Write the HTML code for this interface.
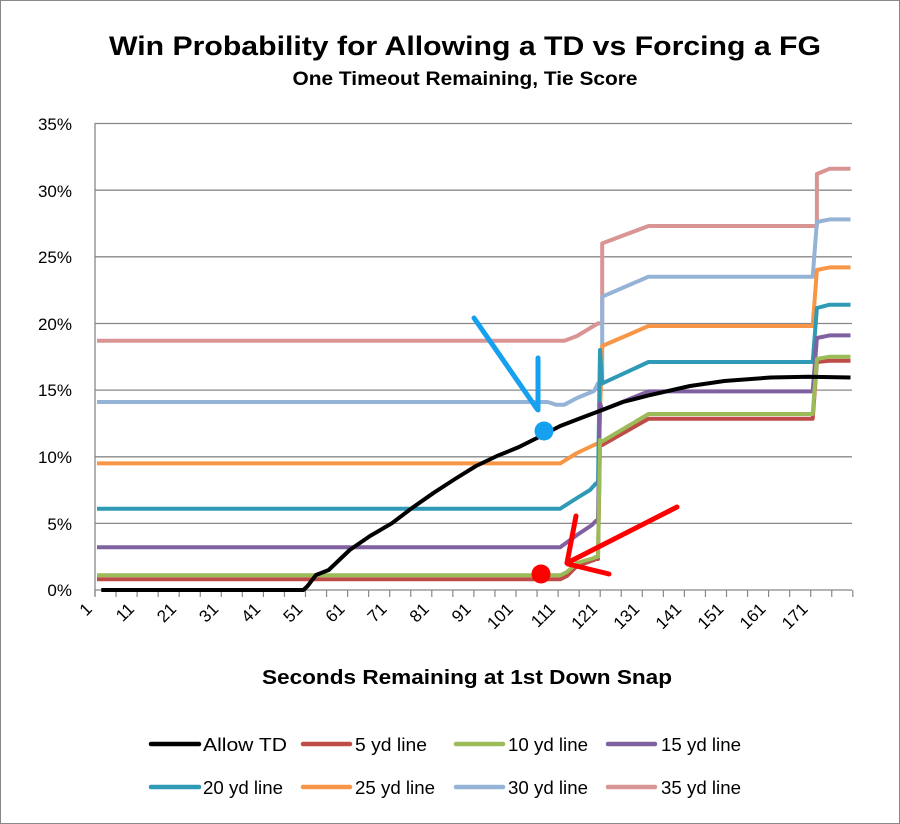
<!DOCTYPE html>
<html><head><meta charset="utf-8"><style>body{margin:0;background:#fff}svg{display:block}</style></head>
<body>
<svg width="900" height="824" viewBox="0 0 900 824" xmlns="http://www.w3.org/2000/svg" font-family="Liberation Sans, sans-serif">
<rect x="0.5" y="0.5" width="899" height="823" fill="#fff" stroke="#888"/>
<text x="465" y="55" font-size="27" font-weight="bold" text-anchor="middle" textLength="712" lengthAdjust="spacingAndGlyphs">Win Probability for Allowing a TD vs Forcing a FG</text>
<text x="465" y="85" font-size="19" font-weight="bold" text-anchor="middle" textLength="345" lengthAdjust="spacingAndGlyphs">One Timeout Remaining, Tie Score</text>
<g stroke="#888" stroke-width="1.3">
<line x1="95" y1="123.5" x2="852" y2="123.5"/><line x1="95" y1="190.2" x2="852" y2="190.2"/><line x1="95" y1="256.8" x2="852" y2="256.8"/><line x1="95" y1="323.5" x2="852" y2="323.5"/><line x1="95" y1="390.1" x2="852" y2="390.1"/><line x1="95" y1="456.8" x2="852" y2="456.8"/><line x1="95" y1="523.4" x2="852" y2="523.4"/><line x1="95" y1="590" x2="852" y2="590"/>
<line x1="95" y1="123" x2="95" y2="596"/>
</g>
<g stroke="#888" stroke-width="1.2" id="ticks"></g>
<g font-size="17" text-anchor="end" fill="#000">
<text x="72" y="130">35%</text><text x="72" y="197">30%</text><text x="72" y="263">25%</text><text x="72" y="330">20%</text><text x="72" y="396">15%</text><text x="72" y="463">10%</text><text x="72" y="530">5%</text><text x="72" y="596">0%</text>
</g>
<g font-size="17" text-anchor="end" id="xl"></g>
<text x="467" y="684" font-size="20" font-weight="bold" text-anchor="middle" textLength="410" lengthAdjust="spacingAndGlyphs">Seconds Remaining at 1st Down Snap</text>
<g fill="none" stroke-width="4" stroke-linejoin="round">
<polyline stroke="#d99594" points="97,340.7 547.6,340.7 564.4,340.7 577,336 598,323.4 602.2,323.4 602.2,243.4 648.5,226 808.5,226 816.9,226 816.9,174 829.5,168.8 850.5,168.8"/>
<polyline stroke="#95b3d7" points="97,402 547.6,402 556,404.7 564.4,404.7 577,398 594,391 598,383.4 602.2,383.4 602.2,296.7 648.5,276.7 808.5,276.7 812.7,276.7 816.9,222 829.5,219.4 850.5,219.4"/>
<polyline stroke="#f79646" points="97,463.4 560.2,463.4 577,453 594,445 598,443.4 599,443.4 602.2,346 648.5,326 808.5,326 812.7,326 816.9,270 829.5,267.4 850.5,267.4"/>
<polyline stroke="#2e9ab5" points="97,508.7 560.2,508.7 577,498 590,490 596,483.4 598,483.4 600,350 602.2,383.4 648.5,362 808.5,362 812.7,362 816.9,308 829.5,304.7 850.5,304.7"/>
<polyline stroke="#7f60a0" points="97,547.3 560.2,547.3 577,535 592,525 596,520.7 598,520.7 600,403.4 602.2,410 648.5,391.4 808.5,391.4 812.7,391.4 816.9,338 829.5,335.4 850.5,335.4"/>
<polyline stroke="#be4b48" points="97,579.3 560.2,579.3 567,576 577,566 594,560 596,559 598,559 600,443.4 602.2,445 648.5,418.7 808.5,418.7 812.7,418.7 816.9,362 829.5,360.7 850.5,360.7"/>
<polyline stroke="#9bbb59" points="97,575.3 560.2,575.3 567,572 577,563 594,558 596,556.7 598,556.7 600,440 602.2,441.4 648.5,414 808.5,414 812.7,414 816.9,359 829.5,356.7 850.5,356.7"/>
<polyline stroke="#000" points="101.3,590 290,590 303.4,590 307.6,586 316,575 328.7,570 349.7,550 370,536 391.8,523.3 412,508 433.9,492.7 455,479 476,466 497,456 518.1,447.4 539,437 560.2,426 581,418 602.2,410 623,402 648.5,395.4 690,386 724.3,381 770.6,377.5 808.5,376.7 850.5,377.5"/>
</g>
<g stroke="#16a0f0" stroke-width="5" stroke-linecap="round" fill="none">
<line x1="474" y1="318" x2="537" y2="409"/><line x1="538" y1="358" x2="538" y2="410"/>
</g>
<circle cx="544" cy="431" r="9.5" fill="#16a0f0"/>
<g stroke="#ff0000" stroke-width="5" stroke-linecap="round" fill="none">
<line x1="677" y1="507" x2="567" y2="563"/><line x1="576" y1="516" x2="567" y2="563"/><line x1="568" y1="564" x2="609" y2="574"/>
</g>
<circle cx="541" cy="574" r="9.5" fill="#ff0000"/>
<g stroke-width="4.5" stroke-linecap="round">
<line x1="151" y1="744" x2="199" y2="744" stroke="#000"/>
<line x1="303" y1="744" x2="350" y2="744" stroke="#be4b48"/>
<line x1="456" y1="744" x2="503" y2="744" stroke="#9bbb59"/>
<line x1="608" y1="744" x2="655" y2="744" stroke="#7f60a0"/>
<line x1="151" y1="787" x2="199" y2="787" stroke="#2e9ab5"/>
<line x1="303" y1="787" x2="350" y2="787" stroke="#f79646"/>
<line x1="456" y1="787" x2="503" y2="787" stroke="#95b3d7"/>
<line x1="608" y1="787" x2="655" y2="787" stroke="#d99594"/>
</g>
<g font-size="18">
<text x="203" y="751" textLength="84" lengthAdjust="spacingAndGlyphs">Allow TD</text><text x="355" y="751" textLength="72" lengthAdjust="spacingAndGlyphs">5 yd line</text><text x="508" y="751" textLength="80" lengthAdjust="spacingAndGlyphs">10 yd line</text><text x="661" y="751" textLength="80" lengthAdjust="spacingAndGlyphs">15 yd line</text>
<text x="203" y="794" textLength="80" lengthAdjust="spacingAndGlyphs">20 yd line</text><text x="355" y="794" textLength="80" lengthAdjust="spacingAndGlyphs">25 yd line</text><text x="508" y="794" textLength="80" lengthAdjust="spacingAndGlyphs">30 yd line</text><text x="661" y="794" textLength="80" lengthAdjust="spacingAndGlyphs">35 yd line</text>
</g>
<script>
var t=document.getElementById('ticks'),xl=document.getElementById('xl'),ns='http://www.w3.org/2000/svg';
for(var k=0;k<=36;k++){var x=95+k*21.05;var l=document.createElementNS(ns,'line');l.setAttribute('x1',x);l.setAttribute('x2',x);l.setAttribute('y1',590);l.setAttribute('y2',597);t.appendChild(l);}
for(var i=1;i<=171;i+=10){var x=95+(i-0.5)*4.21-4;var s=document.createElementNS(ns,'text');s.setAttribute('transform','translate('+x+',610) rotate(-45)');s.textContent=i;xl.appendChild(s);}
</script>
</svg>
</body></html>
